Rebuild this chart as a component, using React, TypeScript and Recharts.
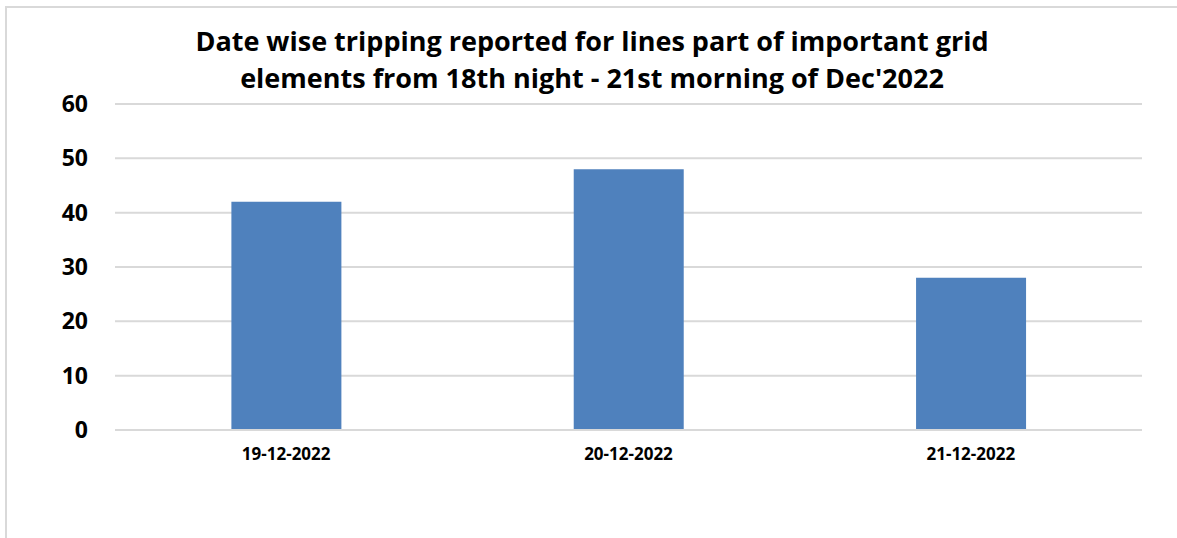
import { BarChart, Bar, XAxis, YAxis, CartesianGrid } from "recharts"

const dates = ["19-12-2022", "20-12-2022", "21-12-2022"]
const trippings = [42, 48, 28]
const yTicks = [0, 10, 20, 30, 40, 50, 60]

const data = dates.map((date, i) => ({ date, trippings: trippings[i] }))

const font = "'Open Sans', 'Noto Sans', sans-serif"

export default function App() {
  return (
    <div
      style={{
        position: "absolute",
        left: 0,
        top: 0,
        width: 1177,
        height: 538,
        background: "#fff",
        overflow: "hidden",
        fontFamily: font,
      }}
    >
      <div
        style={{
          position: "absolute",
          left: 5,
          top: 6,
          width: 1200,
          height: 560,
          border: "2px solid #d9d9d9",
        }}
      />
      <div
        style={{
          position: "absolute",
          left: 0,
          top: 22,
          width: 1184,
          textAlign: "center",
          fontSize: 27,
          fontWeight: 700,
          lineHeight: "37px",
          color: "#000",
        }}
      >
        Date wise tripping reported for lines part of important grid
        <br />
        elements from 18th night - 21st morning of Dec'2022
      </div>
      <div style={{ position: "absolute", left: 0, top: 0 }}>
        <BarChart
          width={1177}
          height={538}
          data={data}
          margin={{ top: 104, right: 35, left: 0, bottom: 0 }}
          barCategoryGap="34%"
        >
          <CartesianGrid vertical={false} stroke="#d9d9d9" strokeWidth={2} />
          <XAxis
            dataKey="date"
            tickLine={false}
            axisLine={{ stroke: "#d9d9d9", strokeWidth: 2 }}
            tick={{ fontSize: 17, fontWeight: 700, fill: "#000", fontFamily: font }}
            tickMargin={12}
            height={108}
          />
          <YAxis
            width={115}
            domain={[0, 60]}
            ticks={yTicks}
            tickLine={false}
            axisLine={false}
            tick={{ fontSize: 23, fontWeight: 700, fill: "#000", fontFamily: font }}
            tickMargin={21}
          />
          <Bar dataKey="trippings" fill="#4f81bd" isAnimationActive={false} />
        </BarChart>
      </div>
    </div>
  )
}
